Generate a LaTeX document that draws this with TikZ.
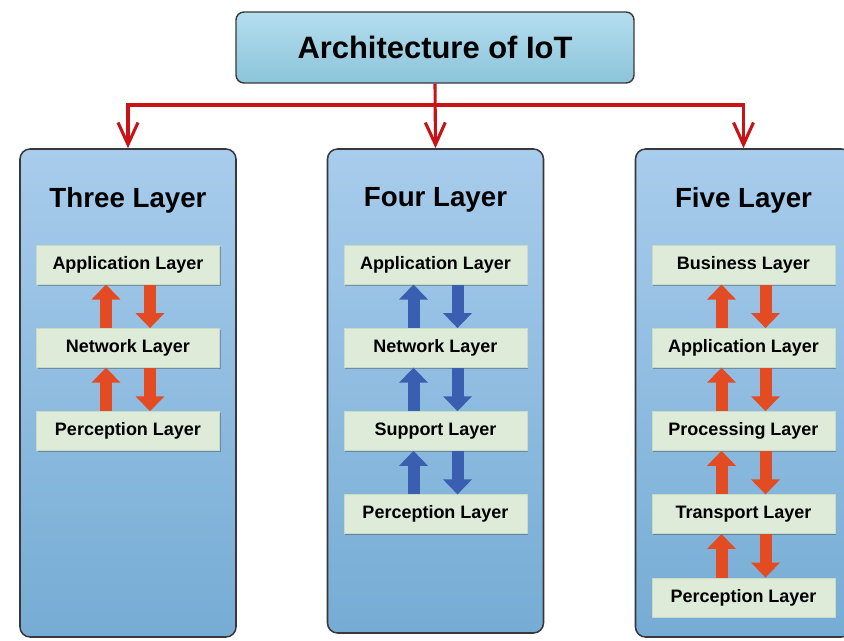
\documentclass[tikz,border=0pt]{standalone}
\usepackage{fontspec}
\setmainfont{Liberation Sans}
\usetikzlibrary{positioning,arrows.meta,shadows}
\definecolor{iotred}{RGB}{200,18,22}
\definecolor{edge}{RGB}{55,55,60}
\definecolor{headtop}{RGB}{180,222,238}
\definecolor{headbot}{RGB}{140,196,218}
\definecolor{coltop}{RGB}{168,204,236}
\definecolor{colbot}{RGB}{118,172,212}
\definecolor{lfill}{RGB}{221,235,216}
\definecolor{lline}{RGB}{200,220,196}
\definecolor{orng}{RGB}{227,75,34}
\definecolor{blu}{RGB}{58,94,176}

\begin{document}
\begin{tikzpicture}[
  titlebox/.style = {draw=edge, line width=1pt, rounded corners=0.2cm, top color=headtop, bottom color=headbot,
    minimum width=9.95cm, minimum height=1.775cm, font=\fontsize{22}{26}\selectfont\bfseries},
  col/.style = {draw=edge, line width=1.1pt, rounded corners=0.25cm, top color=coltop, bottom color=colbot,
    minimum width=5.4cm, minimum height=12.2cm},
  coltitle/.style = {font=\fontsize{19.7}{23}\selectfont\bfseries},
  lbox/.style = {draw=lline, line width=0.4pt, fill=lfill, minimum width=4.575cm, minimum height=0.975cm,
    font=\fontsize{12.8}{15}\selectfont\bfseries,
    drop shadow={shadow xshift=1pt, shadow yshift=-1pt, fill=black, opacity=0.25}},
  link/.style = {draw=iotred, line width=2.2pt, -{Straight Barb[length=0.55cm,width=0.5cm]}},
  flowup/.style = {line width=0.3cm, -{Triangle[width=0.7cm,length=0.375cm]}},
  flowdn/.style = {line width=0.3cm, -{Triangle[width=0.7cm,length=0.375cm]}}
]
\useasboundingbox (0,0) rectangle (21.1,-16.025);

% top box
\node[titlebox] (iot) at (10.875,-1.1875) {Architecture of IoT};

% columns
\node[col] (three) at (3.2,-9.825) {};
\node[col, minimum height=12.1cm] (four) at (10.8875,-9.775) {};
\node[col] (five) at (18.5875,-9.825) {};

\node[coltitle] at ([yshift=-1.3cm]three.north) {Three Layer};
\node[coltitle] at ([yshift=-1.3cm]four.north) {Four Layer};
\node[coltitle] at ([yshift=-1.3cm]five.north) {Five Layer};

% red links
\coordinate (bar) at (10.9,-2.625);
\draw[link] (iot.south) -- (four.north);
\draw[link] (bar) -| (three.north);
\draw[link] (bar) -| (five.north);

% three layer
\node[lbox] (t1) at ([yshift=-2.9125cm]three.north) {Application Layer};
\node[lbox] (t2) [below=1.09cm of t1] {Network Layer};
\node[lbox] (t3) [below=1.09cm of t2] {Perception Layer};

% four layer
\node[lbox] (f1) at ([yshift=-2.9125cm]four.north) {Application Layer};
\node[lbox] (f2) [below=1.09cm of f1] {Network Layer};
\node[lbox] (f3) [below=1.09cm of f2] {Support Layer};
\node[lbox] (f4) [below=1.09cm of f3] {Perception Layer};

% five layer
\node[lbox] (v1) at ([yshift=-2.9125cm]five.north) {Business Layer};
\node[lbox] (v2) [below=1.09cm of v1] {Application Layer};
\node[lbox] (v3) [below=1.09cm of v2] {Processing Layer};
\node[lbox] (v4) [below=1.09cm of v3] {Transport Layer};
\node[lbox] (v5) [below=1.09cm of v4] {Perception Layer};

% up and down arrows
\draw[flowup, orng] ([xshift=-0.55cm]t2.north) -- ([xshift=-0.55cm]t1.south);
\draw[flowdn, orng] ([xshift=0.55cm]t1.south) -- ([xshift=0.55cm]t2.north);
\draw[flowup, orng] ([xshift=-0.55cm]t3.north) -- ([xshift=-0.55cm]t2.south);
\draw[flowdn, orng] ([xshift=0.55cm]t2.south) -- ([xshift=0.55cm]t3.north);

\draw[flowup, blu] ([xshift=-0.55cm]f2.north) -- ([xshift=-0.55cm]f1.south);
\draw[flowdn, blu] ([xshift=0.55cm]f1.south) -- ([xshift=0.55cm]f2.north);
\draw[flowup, blu] ([xshift=-0.55cm]f3.north) -- ([xshift=-0.55cm]f2.south);
\draw[flowdn, blu] ([xshift=0.55cm]f2.south) -- ([xshift=0.55cm]f3.north);
\draw[flowup, blu] ([xshift=-0.55cm]f4.north) -- ([xshift=-0.55cm]f3.south);
\draw[flowdn, blu] ([xshift=0.55cm]f3.south) -- ([xshift=0.55cm]f4.north);

\draw[flowup, orng] ([xshift=-0.55cm]v2.north) -- ([xshift=-0.55cm]v1.south);
\draw[flowdn, orng] ([xshift=0.55cm]v1.south) -- ([xshift=0.55cm]v2.north);
\draw[flowup, orng] ([xshift=-0.55cm]v3.north) -- ([xshift=-0.55cm]v2.south);
\draw[flowdn, orng] ([xshift=0.55cm]v2.south) -- ([xshift=0.55cm]v3.north);
\draw[flowup, orng] ([xshift=-0.55cm]v4.north) -- ([xshift=-0.55cm]v3.south);
\draw[flowdn, orng] ([xshift=0.55cm]v3.south) -- ([xshift=0.55cm]v4.north);
\draw[flowup, orng] ([xshift=-0.55cm]v5.north) -- ([xshift=-0.55cm]v4.south);
\draw[flowdn, orng] ([xshift=0.55cm]v4.south) -- ([xshift=0.55cm]v5.north);
\end{tikzpicture}
\end{document}
